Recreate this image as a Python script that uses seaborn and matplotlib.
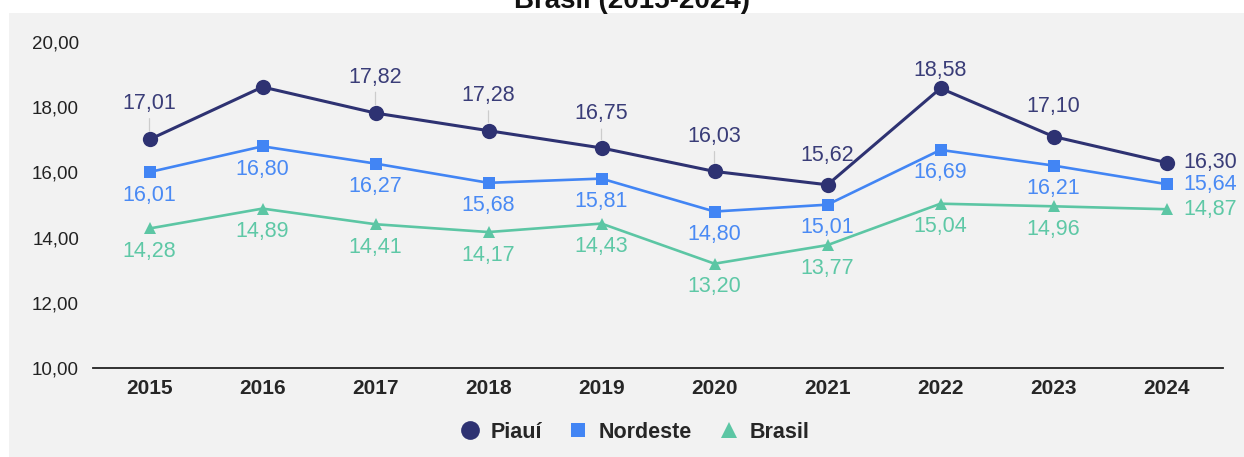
import matplotlib
matplotlib.use("Agg")
import matplotlib.pyplot as plt
from matplotlib.lines import Line2D
from matplotlib.patches import Rectangle
import seaborn as sns

# dados
anos = ["2015", "2016", "2017", "2018", "2019", "2020", "2021", "2022", "2023", "2024"]
piaui = [17.01, 18.62, 17.82, 17.28, 16.75, 16.03, 15.62, 18.58, 17.10, 16.30]
nordeste = [16.01, 16.80, 16.27, 15.68, 15.81, 14.80, 15.01, 16.69, 16.21, 15.64]
brasil = [14.28, 14.89, 14.41, 14.17, 14.43, 13.20, 13.77, 15.04, 14.96, 14.87]
y_ticks = [10, 12, 14, 16, 18, 20]
y_tick_labels = ["10,00", "12,00", "14,00", "16,00", "18,00", "20,00"]

sns.set_theme(style="white")
plt.rcParams["font.family"] = ["Liberation Sans", "DejaVu Sans"]

W, H = 1244, 457
fig = plt.figure(figsize=(W / 100, H / 100), dpi=100)
fig.patch.set_facecolor("white")
fig.patches.append(Rectangle((9 / W, 0), 1 - 9 / W, 1 - 13 / H, transform=fig.transFigure,
                             facecolor="#f2f2f2", edgecolor="none", zorder=-10))

# título cortado no topo (como no original)
fig.text(632 / W, 1 - 7.5 / H, "Brasil (2015-2024)", ha="center", va="baseline",
         fontsize=20, fontweight="bold", color="#111111")

ax = fig.add_axes([93 / W, 1 - 368 / H, (1223 - 93) / W, (368 - 42) / H])
ax.set_facecolor("#f2f2f2")
ax.set_zorder(1)

series = [
    ("Piauí", piaui, "#2e3272", "#3a3d78", "o", 11, 2.2),
    ("Nordeste", nordeste, "#4285f4", "#4a8af4", "s", 8, 1.9),
    ("Brasil", brasil, "#5cc6a4", "#5ec8a6", "^", 9, 1.9),
]

for nome, vals, cor, cor_txt, mk, ms, lw in series:
    sns.lineplot(x=anos, y=vals, ax=ax, color=cor, marker=mk, markersize=ms,
                 markeredgewidth=0, linewidth=lw, legend=False, zorder=3)

ax.set_xlim(-0.5, len(anos) - 0.5)
ax.set_ylim(10, 20)
ax.set_yticks(y_ticks)
ax.set_yticklabels(y_tick_labels)
ax.tick_params(axis="y", length=0, pad=10, labelsize=13.5, labelcolor="#222222")
ax.tick_params(axis="x", length=0, pad=8, labelsize=15)
for lab in ax.get_xticklabels():
    lab.set_fontweight("bold")
ax.set_xlabel("")
ax.set_ylabel("")
for s in ["top", "left", "right"]:
    ax.spines[s].set_visible(False)
ax.spines["bottom"].set_color("#222222")
ax.spines["bottom"].set_linewidth(1.3)


def fmt(v):
    return f"{v:.2f}".replace(".", ",")


px = 0.72  # pontos por pixel
last = len(anos) - 1
fs = 15.5

# rótulos Piauí (acima); 2016 sem rótulo no original
dy_piaui = [36, None, 36, 35, 34, 35, 29, 18, 30]
for i, v in enumerate(piaui):
    if i == last:
        ax.annotate(fmt(v), (i, v), xytext=(17 * px, 0), textcoords="offset points",
                    ha="left", va="center", fontsize=fs, color=series[0][3])
        continue
    dy = dy_piaui[i]
    if dy is None:
        continue
    leader = dict(arrowstyle="-", color="#cccccc", lw=0.9, shrinkA=1, shrinkB=6) if dy >= 33 else None
    ax.annotate(fmt(v), (i, v), xytext=(0, dy * px), textcoords="offset points",
                ha="center", va="center", fontsize=fs, color=series[0][3],
                arrowprops=leader, zorder=2)

for nome, vals, cor, cor_txt, mk, ms, lw in series[1:]:
    for i, v in enumerate(vals):
        if i == last:
            ax.annotate(fmt(v), (i, v), xytext=(17 * px, 0), textcoords="offset points",
                        ha="left", va="center", fontsize=fs, color=cor_txt)
        else:
            ax.annotate(fmt(v), (i, v), xytext=(0, -23 * px), textcoords="offset points",
                        ha="center", va="center", fontsize=fs, color=cor_txt)

handles = [
    Line2D([], [], linestyle="none", marker="o", markersize=13.5, color=series[0][2], markeredgewidth=0),
    Line2D([], [], linestyle="none", marker="s", markersize=10, color=series[1][2], markeredgewidth=0),
    Line2D([], [], linestyle="none", marker="^", markersize=12, color=series[2][2], markeredgewidth=0),
]
fig.legend(handles, [s[0] for s in series], loc="center", bbox_to_anchor=(633 / W, 1 - 432 / H),
           ncol=3, frameon=False, prop={"size": 15.5, "weight": "bold"},
           handletextpad=0.35, columnspacing=1.1, handlelength=1.2)

fig.savefig("out.png", dpi=100)
